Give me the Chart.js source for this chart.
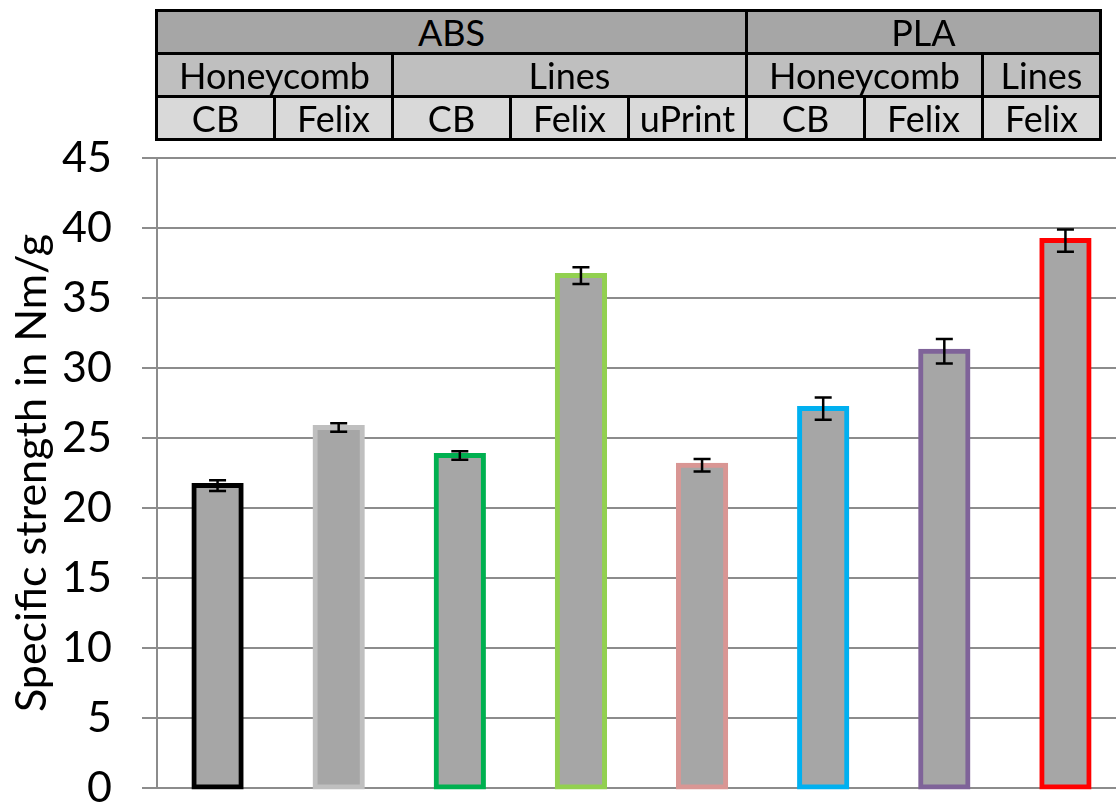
<!DOCTYPE html>
<html>
<head>
<meta charset="utf-8">
<title>Specific strength</title>
<script src="https://cdn.jsdelivr.net/npm/chart.js@4/dist/chart.umd.min.js"></script>
<style>
    html, body { margin: 0; padding: 0; background: #fff; overflow: hidden; }
    #wrap { position: relative; width: 1126px; height: 805px; }
    #grupos {
        position: absolute; left: 155px; top: 9px;
        border-collapse: collapse; table-layout: fixed;
        font-family: Lato, "Open Sans", sans-serif; font-size: 36px; color: #000;
    }
    #grupos td {
        border: 3px solid #000; text-align: center; height: 40px; padding: 0;
        line-height: 40px; width: 115px; white-space: nowrap; overflow: hidden;
    }
    #grupos .n1 td { background: #a6a6a6; }
    #grupos .n2 td { background: #bfbfbf; }
    #grupos .n3 td { background: #d9d9d9; }
</style>
</head>
<body>
<div id="wrap">
    <canvas id="grafico"></canvas>
    <table id="grupos"></table>
</div>
<script>
// categorias (ver tabla de encabezado)
var materiales = [['ABS', 5], ['PLA', 3]];
var relleno = [['Honeycomb', 2], ['Lines', 3], ['Honeycomb', 2], ['Lines', 1]];
var impresoras = ['CB', 'Felix', 'CB', 'Felix', 'uPrint', 'CB', 'Felix', 'Felix'];

// resistencia especifica (Nm/g) y su desviacion
var resistencia = [21.6, 25.75, 23.75, 36.6, 23.05, 27.1, 31.2, 39.1];
var desviacion = [0.38, 0.3, 0.3, 0.6, 0.45, 0.8, 0.88, 0.8];

var bordes = ['#000000', '#bfbfbf', '#00b050', '#92d050', '#d99694', '#00b0f0', '#7f6399', '#ff0000'];

var ticksY = [0, 5, 10, 15, 20, 25, 30, 35, 40, 45];

// tabla de grupos sobre el grafico
var tabla = document.getElementById('grupos');
function fila(clase, celdas) {
    var tr = document.createElement('tr');
    tr.className = clase;
    celdas.forEach(function (c) {
        var td = document.createElement('td');
        td.textContent = c[0];
        td.colSpan = c[1];
        tr.appendChild(td);
    });
    tabla.appendChild(tr);
}
fila('n1', materiales);
fila('n2', relleno);
fila('n3', impresoras.map(function (p) { return [p, 1]; }));

// barras de error
var barrasError = {
    id: 'barrasError',
    afterDatasetsDraw: function (chart) {
        var ctx = chart.ctx;
        var y = chart.scales.y;
        var meta = chart.getDatasetMeta(0);
        ctx.save();
        ctx.strokeStyle = '#000';
        ctx.lineWidth = 2.5;
        meta.data.forEach(function (bar, i) {
            var arriba = y.getPixelForValue(resistencia[i] + desviacion[i]);
            var abajo = y.getPixelForValue(resistencia[i] - desviacion[i]);
            ctx.beginPath();
            ctx.moveTo(bar.x, arriba);
            ctx.lineTo(bar.x, abajo);
            ctx.moveTo(bar.x - 8.5, arriba);
            ctx.lineTo(bar.x + 8.5, arriba);
            ctx.moveTo(bar.x - 8.5, abajo);
            ctx.lineTo(bar.x + 8.5, abajo);
            ctx.stroke();
        });
        ctx.restore();
    }
};

var fuente = 'Lato, "Open Sans", sans-serif';

new Chart(document.getElementById('grafico'), {
    type: 'bar',
    data: {
        labels: impresoras,
        datasets: [{
            data: resistencia,
            backgroundColor: '#a6a6a6',
            borderColor: bordes,
            borderWidth: 5,
            borderSkipped: false,
            // el borde queda centrado sobre el borde de la barra
            inflateAmount: 2.5,
            clip: 10,
            barPercentage: 0.39,
            categoryPercentage: 1
        }]
    },
    options: {
        responsive: true,
        maintainAspectRatio: false,
        animation: false,
        layout: { padding: { top: 158, bottom: 17, left: 0, right: 0 } },
        plugins: {
            legend: { display: false },
            tooltip: { enabled: false }
        },
        scales: {
            x: { display: false },
            y: {
                min: 0,
                max: 45,
                afterBuildTicks: function (s) {
                    s.ticks = ticksY.map(function (v) { return { value: v }; });
                },
                afterFit: function (s) {
                    s.width = 157;
                    s.paddingTop = 0;
                    s.paddingBottom = 0;
                },
                border: { color: '#8c8c8c', width: 2 },
                grid: { color: '#8c8c8c', lineWidth: 2, tickLength: 15 },
                ticks: {
                    color: '#000',
                    padding: 30,
                    font: { family: fuente, size: 43, lineHeight: 1 }
                },
                title: {
                    display: true,
                    text: 'Specific strength in Nm/g',
                    color: '#000',
                    padding: { top: 6, bottom: 0 },
                    font: { family: fuente, size: 43, lineHeight: 1.2 }
                }
            }
        }
    },
    plugins: [barrasError]
});
</script>
</body>
</html>
